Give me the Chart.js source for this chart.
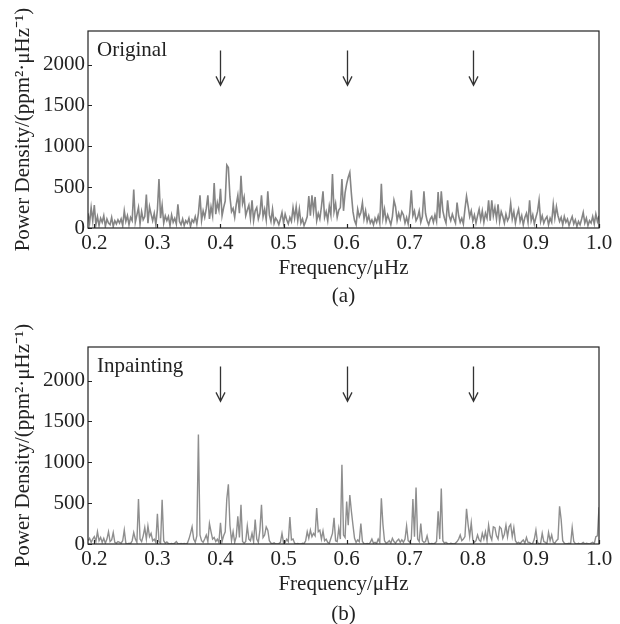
<!DOCTYPE html>
<html><head><meta charset="utf-8">
<script src="https://cdn.jsdelivr.net/npm/chart.js@4.4.1/dist/chart.umd.min.js"></script>
<style>
html,body{margin:0;padding:0;background:#fff;overflow:hidden;width:620px;height:624px}
.wrap{position:absolute;left:0;width:620px;height:308px}
.cap{position:absolute;left:88px;width:511px;text-align:center;font:21px "Liberation Serif","Times New Roman",serif;line-height:24px;color:#222}
</style></head><body>
<div class="wrap" style="top:0"><canvas id="c1" width="620" height="308"></canvas></div>
<div class="wrap" style="top:316px"><canvas id="c2" width="620" height="308"></canvas></div>
<div class="cap" id="capA" style="top:283px"></div>
<div class="cap" id="capB" style="top:601px"></div>
<script>
// frequency grid (μHz)
const freqStart = 0.19, freqStep = 0.0025;

// power density (a) "Original"
const originalPower = [
180,60,250,90,280,40,140,30,120,70,150,20,110,60,40,130,20,90,50,100,
60,110,30,210,80,150,40,130,90,470,70,160,250,50,200,100,140,410,60,260,
170,90,180,40,220,600,120,280,60,150,90,140,30,160,70,120,50,290,80,40,
110,30,90,60,120,20,100,70,140,50,180,400,90,210,130,240,400,110,260,150,
550,170,310,220,480,150,250,330,770,740,380,200,240,130,290,400,180,640,300,380,
150,220,280,120,340,90,210,250,110,180,400,140,230,100,450,160,80,230,60,120,
90,40,110,190,60,170,100,50,130,80,250,120,260,90,230,60,110,30,80,140,
390,150,400,200,380,90,180,110,260,450,130,200,90,270,160,660,200,300,130,220,
250,600,210,430,540,620,680,420,200,90,40,230,140,190,310,110,210,80,150,60,
100,40,120,70,150,60,540,120,230,80,160,100,40,140,340,260,90,180,110,200,
160,60,130,50,190,460,150,210,90,130,210,70,140,450,180,90,40,110,140,70,
160,80,440,120,450,210,120,60,340,150,90,170,110,60,310,150,70,120,50,230,
390,270,140,210,90,160,60,150,230,100,210,70,180,120,340,90,340,150,250,110,
290,80,200,140,60,170,90,130,300,110,200,60,160,230,80,150,40,130,180,70,
340,90,160,50,130,200,340,80,150,60,110,140,40,120,70,290,120,260,150,80,
130,40,140,70,110,30,90,140,50,100,20,80,40,110,190,60,120,30,90,60,
140,50,170,80,150
];

// power density (b) "Inpainting"
const inpaintingPower = [
40,70,20,60,90,30,150,40,80,20,70,10,60,150,30,50,140,20,10,30,
20,10,40,170,10,0,10,5,40,140,60,20,550,60,30,100,200,60,220,90,
130,40,60,20,370,30,10,540,40,10,25,5,0,5,0,10,30,5,0,5,
0,5,0,10,60,130,210,60,20,100,1340,110,40,20,60,110,30,250,150,60,
80,30,60,20,260,30,100,150,550,730,230,40,150,20,90,340,80,480,30,10,
30,220,60,40,130,30,300,60,20,170,480,80,110,210,170,40,10,5,15,0,
0,5,20,130,10,20,60,30,330,50,60,10,0,5,0,0,10,5,40,150,
70,170,90,130,100,440,150,170,60,160,40,60,20,10,70,130,320,40,30,190,
60,970,110,80,520,230,600,400,230,70,20,50,30,250,30,5,0,5,0,20,
60,10,20,5,60,20,560,240,40,10,20,40,10,70,30,10,40,60,20,50,
20,60,220,40,20,60,550,90,690,60,30,250,40,20,30,100,10,0,5,0,
10,30,400,60,680,40,10,20,5,0,10,5,0,10,30,60,110,40,60,90,
430,240,90,260,50,20,40,110,50,30,130,60,150,40,230,100,50,210,200,100,
60,210,190,70,120,230,90,210,240,90,200,40,10,20,5,30,50,10,80,20,
20,0,10,60,170,20,0,10,130,30,20,5,140,40,110,20,10,40,60,460,
300,40,10,0,5,10,0,200,30,5,0,10,0,5,20,0,10,5,0,10,
20,5,90,100,450
];

const xTicks = [0.2, 0.3, 0.4, 0.5, 0.6, 0.7, 0.8, 0.9, 1.0];
const yTicks = [0, 500, 1000, 1500, 2000];
const arrowFreqs = [0.4, 0.6, 0.8];
const arrowTop = 2170, arrowTip = 1745;
const panelLabels = ['Original', 'Inpainting'];
const captions = ['(a)', '(b)'];
const xTitle = 'Frequency/μHz';
const yTitle = 'Power Density/(ppm²·μHz⁻¹)';

document.getElementById('capA').textContent = captions[0];
document.getElementById('capB').textContent = captions[1];

const FONT = 'Liberation Serif';
const INK = '#222';

function panelPlugin(label) {
  return {
    id: 'panelDeco',
    afterDatasetsDraw(chart) {
      const {ctx, chartArea: a, scales: {x, y}} = chart;
      ctx.save();
      ctx.strokeStyle = INK; ctx.lineWidth = 1.2;
      ctx.beginPath();
      xTicks.forEach(v => { const px = Math.round(x.getPixelForValue(v)) + 0.5; ctx.moveTo(px, a.bottom); ctx.lineTo(px, a.bottom - 4); });
      yTicks.forEach(v => { const py = Math.round(y.getPixelForValue(v)) + 0.5; ctx.moveTo(a.left, py); ctx.lineTo(a.left + 4, py); });
      ctx.stroke();
      ctx.strokeRect(a.left, a.top, a.right - a.left, a.bottom - a.top);
      ctx.strokeStyle = '#333'; ctx.lineWidth = 1.3;
      arrowFreqs.forEach(f => {
        const px = Math.round(x.getPixelForValue(f)) + 0.5;
        const y0 = y.getPixelForValue(arrowTop), y1 = y.getPixelForValue(arrowTip);
        ctx.beginPath();
        ctx.moveTo(px, y0); ctx.lineTo(px, y1);
        ctx.moveTo(px - 4.5, y1 - 9); ctx.lineTo(px, y1); ctx.lineTo(px + 4.5, y1 - 9);
        ctx.stroke();
      });
      ctx.fillStyle = INK;
      ctx.font = '21px "' + FONT + '"';
      ctx.textBaseline = 'alphabetic'; ctx.textAlign = 'left';
      ctx.fillText(label, a.left + 9, a.top + 25);
      ctx.restore();
    }
  };
}

function makeChart(id, values, label, color, width) {
  const pts = values.map((v, i) => ({x: +(freqStart + i * freqStep).toFixed(4), y: v}));
  const font = {family: FONT, size: 21};
  return new Chart(document.getElementById(id), {
    type: 'line',
    data: {datasets: [{data: pts, borderColor: color, borderWidth: width, pointRadius: 0, tension: 0, fill: false}]},
    options: {
      responsive: false, animation: false, devicePixelRatio: 1,
      layout: {padding: {top: 31, right: 21, left: 11, bottom: 27.4}},
      plugins: {legend: {display: false}, tooltip: {enabled: false}},
      scales: {
        x: {
          type: 'linear', min: 0.19, max: 1.0,
          grid: {display: false, drawTicks: false}, border: {display: false},
          afterBuildTicks: s => { s.ticks = xTicks.map(v => ({value: v})); },
          afterFit: s => { s.height = 52.6; },
          ticks: {padding: 3, color: INK, font, maxRotation: 0, autoSkip: false, callback: v => Number(v).toFixed(1)},
          title: {display: true, text: xTitle, color: INK, font, padding: 0}
        },
        y: {
          type: 'linear', min: 0, max: 2410,
          grid: {display: false, drawTicks: false}, border: {display: false},
          afterBuildTicks: s => { s.ticks = yTicks.map(v => ({value: v})); },
          afterFit: s => { s.width = 77; },
          ticks: {padding: 3, color: INK, font, callback: v => String(v)},
          title: {display: true, text: yTitle, color: INK, font, padding: 0}
        }
      }
    },
    plugins: [panelPlugin(label)]
  });
}

makeChart('c1', originalPower, panelLabels[0], '#858585', 1.6);
makeChart('c2', inpaintingPower, panelLabels[1], '#8e8e8e', 1.4);
</script>
</body></html>
